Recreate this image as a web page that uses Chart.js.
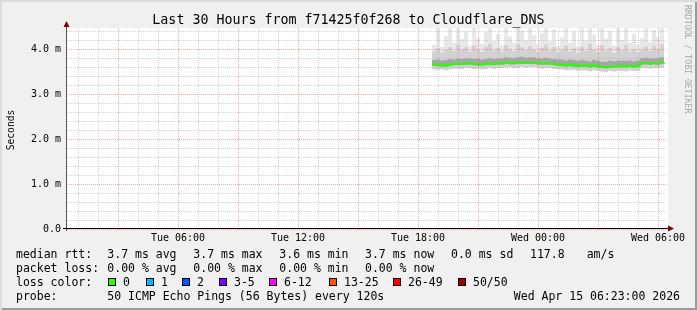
<!DOCTYPE html>
<html>
<head>
<meta charset="utf-8">
<script src="https://cdn.jsdelivr.net/npm/chart.js@4.4.1/dist/chart.umd.min.js"></script>
<style>
    body { margin: 0; background: #fff; }
    #frame {
        position: relative; width: 697px; height: 310px; overflow: hidden;
        background: #f0f0f0;
        box-shadow: inset 2px 2px 0 #dcdcdc, inset -2px -2px 0 #9a9a9a;
        font-family: "DejaVu Sans Mono", monospace; color: #000;
    }
    #chart { position: absolute; left: 0; top: 0; }
    .t { position: absolute; white-space: pre; line-height: 14px; font-size: 11.5px; }
    .box { position: absolute; width: 8px; height: 8px; box-sizing: border-box; border: 1px solid #000; }
    #title { position: absolute; left: 0; top: 13px; width: 697px; text-align: center; line-height: 14px; font-size: 13.3px; white-space: pre; }
    #ylabel { position: absolute; left: -19px; top: 123px; width: 60px; line-height: 14px; text-align: center; font-size: 9.6px; transform: rotate(-90deg); }
    #watermark { position: absolute; left: 683px; top: 5px; writing-mode: vertical-rl; font-size: 8.2px; color: #a8a8a8; white-space: pre; }
</style>
</head>
<body>
<div id="frame">
    <canvas id="chart" width="697" height="310"></canvas>
    <div id="title">Last 30 Hours from f71425f0f268 to Cloudflare_DNS</div>
    <div id="ylabel">Seconds</div>
    <div id="watermark">RRDTOOL / TOBI OETIKER</div>
    <div id="legend"></div>
</div>
<script>
// time axis in hours counted from Tue 00:00
const hoursStart = 0.45;   // Tue 00:27
const hoursEnd = 30.45;    // Wed 06:27
const sampleStart = 18.7;  // first sample with data
const sampleStep = 0.2;

// values in milliseconds
const medianRtt = [3.66,3.65,3.65,3.64,3.66,3.67,3.68,3.67,3.68,3.69,3.67,3.67,3.66,3.67,3.68,3.67,3.69,3.68,3.70,3.70,
    3.69,3.70,3.71,3.70,3.71,3.70,3.70,3.68,3.69,3.68,3.67,3.66,3.65,3.64,3.65,3.64,3.63,3.64,3.63,3.62,
    3.64,3.62,3.61,3.60,3.62,3.61,3.62,3.63,3.62,3.63,3.62,3.63,3.69,3.69,3.68,3.69,3.68,3.70,3.71];
const smokeMin = [3.55,3.54,3.55,3.53,3.55,3.57,3.57,3.56,3.58,3.58,3.56,3.57,3.55,3.56,3.58,3.56,3.58,3.58,3.59,3.60,
    3.58,3.59,3.61,3.59,3.60,3.60,3.59,3.57,3.58,3.58,3.56,3.55,3.55,3.53,3.54,3.54,3.52,3.53,3.53,3.51,
    3.53,3.52,3.50,3.49,3.52,3.50,3.52,3.52,3.51,3.53,3.52,3.52,3.58,3.59,3.57,3.58,3.58,3.59,3.61];
const smokeLow = [3.63,3.62,3.61,3.61,3.63,3.64,3.64,3.64,3.65,3.65,3.64,3.63,3.63,3.64,3.64,3.64,3.65,3.65,3.67,3.66,
    3.66,3.67,3.67,3.67,3.67,3.67,3.66,3.65,3.65,3.65,3.64,3.63,3.62,3.61,3.62,3.61,3.60,3.60,3.60,3.59,
    3.60,3.59,3.58,3.57,3.58,3.58,3.59,3.59,3.59,3.60,3.59,3.60,3.65,3.66,3.65,3.66,3.65,3.67,3.68];
const smokeHigh = [3.76,3.77,3.75,3.76,3.78,3.77,3.79,3.78,3.80,3.79,3.78,3.79,3.77,3.78,3.80,3.78,3.80,3.79,3.82,3.81,
    3.80,3.82,3.83,3.81,3.82,3.82,3.80,3.79,3.81,3.79,3.78,3.77,3.77,3.75,3.77,3.76,3.74,3.76,3.75,3.73,
    3.76,3.74,3.72,3.72,3.74,3.73,3.74,3.75,3.74,3.75,3.73,3.75,3.80,3.81,3.79,3.80,3.80,3.82,3.83];
const smokeUpper = [3.95,4.02,3.92,3.98,4.05,3.96,4.10,3.99,4.04,3.94,4.08,4.00,3.93,4.06,4.12,3.97,4.03,3.95,4.09,4.01,
    3.96,4.11,4.04,3.98,4.07,4.00,3.94,4.03,4.10,3.97,4.05,3.93,3.99,4.08,3.95,4.02,3.91,4.06,3.96,4.12,
    4.00,3.94,4.09,3.97,4.03,3.92,4.05,3.98,4.10,3.95,4.01,3.93,3.99,4.06,3.96,4.08,4.00,4.11,3.98];
const smokeMax = [4.10,4.47,4.05,4.30,4.47,4.15,4.47,4.22,4.40,4.08,4.47,4.25,4.12,4.38,4.47,4.18,4.33,4.09,4.47,4.28,
    4.14,4.47,4.42,4.20,4.47,4.31,4.11,4.36,4.47,4.17,4.44,4.07,4.26,4.47,4.13,4.39,4.06,4.47,4.19,4.47,
    4.32,4.10,4.47,4.23,4.41,4.08,4.47,4.21,4.47,4.15,4.35,4.09,4.24,4.47,4.16,4.43,4.27,4.47,4.20];

const xLabelHours = [6, 12, 18, 24, 30];
const xLabels = ['Tue 06:00', 'Tue 12:00', 'Tue 18:00', 'Wed 00:00', 'Wed 06:00'];
const yMax = 4.47;
const yLabelValues = [0, 1, 2, 3, 4];
const yLabels = ['0.0', '1.0 m', '2.0 m', '3.0 m', '4.0 m'];

const lossLabels = ['0', '1', '2', '3-5', '6-12', '13-25', '26-49', '50/50'];
const lossColors = ['#26ff00', '#00b8ff', '#0059ff', '#7e00ff', '#ff00ff', '#ff5500', '#ff0000', '#a10000'];

// legend text
const legendRows = [
    [[16, 'median rtt:'], [107.3, '3.7 ms avg'], [193.3, '3.7 ms max'], [279.3, '3.6 ms min'], [365, '3.7 ms now'], [451, '0.0 ms sd'], [530, '117.8'], [586.7, 'am/s']],
    [[16, 'packet loss:'], [107.3, '0.00 % avg'], [193.3, '0.00 % max'], [279.3, '0.00 % min'], [365, '0.00 % now']],
    [[16, 'loss color:']],
    [[16, 'probe:'], [107.3, '50 ICMP Echo Pings (56 Bytes) every 120s']]
];
const probeTime = 'Wed Apr 15 06:23:00 2026';

const legend = document.getElementById('legend');
function addText(x, rowCenter, text, right) {
    const el = document.createElement('div');
    el.className = 't';
    el.textContent = text;
    el.style.top = (rowCenter - 7) + 'px';
    if (right) el.style.right = (697 - x) + 'px'; else el.style.left = x + 'px';
    legend.appendChild(el);
}
legendRows.forEach((row, r) => row.forEach(item => addText(item[0], 254 + r * 14, item[1])));
addText(680, 296, probeTime, true);

const boxX = [108, 146, 182, 219, 269, 329, 393, 458];
lossLabels.forEach((lbl, i) => {
    const b = document.createElement('div');
    b.className = 'box';
    b.style.left = boxX[i] + 'px';
    b.style.top = '278px';
    b.style.background = lossColors[i];
    legend.appendChild(b);
    addText(boxX[i] + 15, 282, lbl);
});

// chart
const toPoints = arr => arr.map((v, i) => ({ x: sampleStart + i * sampleStep, y: v }));
const smoke = (label, arr, color, target, order) => ({
    label: label,
    data: toPoints(arr),
    borderColor: 'transparent',
    borderWidth: 0,
    backgroundColor: color,
    pointRadius: 0,
    stepped: true,
    fill: target === null ? false : target,
    order: order
});

const gridHours = [];
for (let h = Math.ceil(hoursStart); h <= hoursEnd; h++) gridHours.push(h);
const gridValues = [];
for (let k = 0; k * 0.2 <= yMax; k++) gridValues.push(Math.round(k * 2) / 10);

const isMajor = v => Math.abs(v - Math.round(v)) < 1e-6;

const framePlugin = {
    id: 'rrdFrame',
    beforeDraw(chart) {
        const { ctx, chartArea: a } = chart;
        ctx.save();
        ctx.fillStyle = '#ffffff';
        ctx.fillRect(a.left, a.top, a.right - a.left + 1, a.bottom - a.top);
        ctx.restore();
    },
    afterDraw(chart) {
        const { ctx, chartArea: a } = chart;
        ctx.save();
        ctx.lineWidth = 1;
        ctx.strokeStyle = '#555';
        ctx.beginPath();
        ctx.moveTo(a.left - 0.5, a.bottom + 2);
        ctx.lineTo(a.left - 0.5, a.top - 4);
        ctx.stroke();
        ctx.strokeStyle = '#000';
        ctx.beginPath();
        ctx.moveTo(a.left - 4, a.bottom - 0.5);
        ctx.lineTo(a.right + 4, a.bottom - 0.5);
        ctx.stroke();
        ctx.fillStyle = '#7f0000';
        ctx.beginPath();
        ctx.moveTo(a.left - 3.5, a.top - 1);
        ctx.lineTo(a.left + 2.5, a.top - 1);
        ctx.lineTo(a.left - 0.5, a.top - 7);
        ctx.closePath();
        ctx.fill();
        ctx.beginPath();
        ctx.moveTo(a.right + 1, a.bottom - 3.5);
        ctx.lineTo(a.right + 1, a.bottom + 2.5);
        ctx.lineTo(a.right + 7, a.bottom - 0.5);
        ctx.closePath();
        ctx.fill();
        ctx.restore();
    }
};

const tickFont = { family: 'DejaVu Sans Mono', size: 10 };
const minorGrid = 'rgba(160,160,160,0.45)';
const majorGrid = 'rgba(240,90,90,0.5)';

new Chart(document.getElementById('chart'), {
    type: 'line',
    data: {
        datasets: [
            {
                label: 'median rtt',
                data: toPoints(medianRtt),
                borderColor: '#26ff00',
                borderWidth: 2,
                pointRadius: 0,
                stepped: true,
                fill: false,
                order: 0
            },
            smoke('max', smokeMax, '#e8e8e8', 5, 5),
            smoke('upper', smokeUpper, '#d2d2d2', 5, 4),
            smoke('high', smokeHigh, '#a6a6a6', 4, 3),
            smoke('low', smokeLow, 'transparent', null, 6),
            smoke('min', smokeMin, 'transparent', null, 7)
        ]
    },
    options: {
        responsive: false,
        animation: false,
        devicePixelRatio: 1,
        layout: { padding: { top: 28, right: 30, left: 0, bottom: 0 } },
        plugins: { legend: { display: false }, tooltip: { enabled: false } },
        scales: {
            x: {
                type: 'linear',
                min: hoursStart,
                max: hoursEnd,
                afterBuildTicks: scale => { scale.ticks = gridHours.map(v => ({ value: v })); },
                afterFit: scale => { scale.height = 81; },
                grid: {
                    color: c => (c.tick && c.tick.value % 3 === 0) ? majorGrid : minorGrid,
                    lineWidth: 1,
                    drawTicks: false,
                    z: 1
                },
                border: { display: false, dash: [1, 1] },
                ticks: {
                    autoSkip: false,
                    maxRotation: 0,
                    padding: 3,
                    color: '#000',
                    font: tickFont,
                    callback: v => {
                        const i = xLabelHours.indexOf(v);
                        return i >= 0 ? xLabels[i] : '';
                    }
                }
            },
            y: {
                type: 'linear',
                min: 0,
                max: yMax,
                afterBuildTicks: scale => { scale.ticks = gridValues.map(v => ({ value: v })); },
                afterFit: scale => { scale.width = 67; },
                grid: {
                    color: c => (c.tick && isMajor(c.tick.value)) ? majorGrid : minorGrid,
                    lineWidth: 1,
                    drawTicks: false,
                    z: 1
                },
                border: { display: false, dash: [1, 1] },
                ticks: {
                    autoSkip: false,
                    padding: 6,
                    color: '#000',
                    font: tickFont,
                    callback: v => {
                        const i = yLabelValues.findIndex(y => Math.abs(y - v) < 1e-6);
                        return i >= 0 ? yLabels[i] : '';
                    }
                }
            }
        }
    },
    plugins: [framePlugin]
});
</script>
</body>
</html>
